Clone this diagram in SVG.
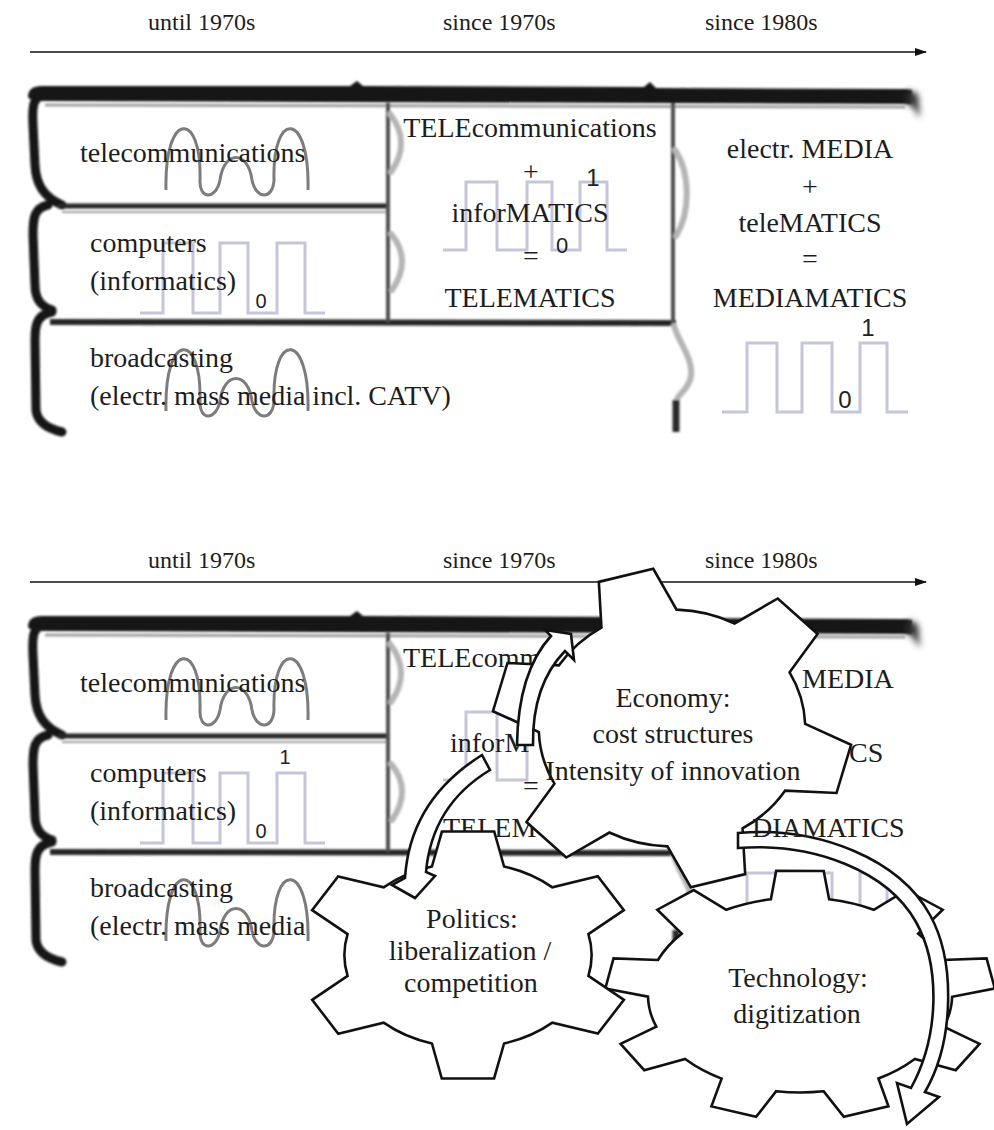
<svg xmlns="http://www.w3.org/2000/svg" width="994" height="1130" viewBox="0 0 994 1130">
<defs>
<style>
.t{font-family:"Liberation Serif","Times New Roman",serif;font-size:28px;fill:#1d1d1d}
.h{font-family:"Liberation Serif","Times New Roman",serif;font-size:24px;fill:#1d1d1d}
.c{text-anchor:middle}
.d{font-family:"Liberation Sans",Arial,sans-serif;fill:#222}
.sq{fill:none;stroke:#c6c6da;stroke-width:3}
.sn{fill:none;stroke:#7c7c7c;stroke-width:3}
.gear{fill:#fff;stroke:#111;stroke-width:2.6;stroke-linejoin:miter}
.arr{fill:#fff;stroke:#111;stroke-width:2.6;stroke-linejoin:miter}
.tl{stroke:#111;stroke-width:1.6;fill:none}
.bk{fill:none;stroke:#141414;stroke-width:9;stroke-linecap:round}
.lg{fill:none;stroke:#b5b5b5;stroke-width:6;stroke-linecap:round}
</style>
<filter id="soft" x="-5%" y="-5%" width="110%" height="110%"><feGaussianBlur stdDeviation="1.3"/></filter>
<filter id="fade" x="-50%" y="-50%" width="200%" height="200%"><feGaussianBlur stdDeviation="3"/></filter>
<marker id="ah" viewBox="0 0 12 8" refX="11" refY="4" markerWidth="12" markerHeight="8" markerUnits="userSpaceOnUse" orient="auto"><path d="M0,0 L12,4 L0,8 Z" fill="#111"/></marker>
<g id="frame">
<g filter="url(#soft)">
<path d="M28,97 Q28,86 42,86 L350,86 L357,81 L363,86 L644,87 L650,82 L656,88 L906,89 L912,90 L912,104 L900,104 L40,101 Q30,101 28,97 Z" fill="#141414"/>
<path d="M45,105 L905,107" stroke="#a0a0a0" stroke-width="3" fill="none"/>
<path class="bk" d="M50,92 C32,95 32,106 33,125 L35,165 C36,185 44,197 62,205"/>
<path class="bk" d="M48,205 C34,208 33,218 33,235 L35,285 C35,298 40,306 52,310"/>
<path class="bk" d="M52,312 C37,315 35,324 35,340 L36,410 C37,420 45,428 62,432"/>
<path d="M58,206 L387,206" stroke="#262626" stroke-width="5" fill="none"/>
<path d="M62,212 L386,212" stroke="#a0a0a0" stroke-width="2" fill="none"/>
<path d="M50,322 L676,323" stroke="#262626" stroke-width="6" fill="none"/>
<path d="M388,103 L388,322" stroke="#505050" stroke-width="4" fill="none"/>
<path class="lg" d="M390,114 C404,132 405,152 391,172 M391,234 C405,250 406,270 392,290"/>
<path d="M673,103 L673,325" stroke="#505050" stroke-width="4" fill="none"/>
<path class="lg" d="M675,150 C690,172 691,212 676,236 M674,326 C680,345 693,358 691,376 C689,390 677,394 676,402"/>
<path d="M676,400 L676,432" stroke="#2a2a2a" stroke-width="7" fill="none"/>
</g>
<path d="M908,90 L918,94 L920,118 L912,106 L906,104 Z" fill="#333" filter="url(#fade)"/>
</g>
<g id="waves">
<path class="sn" d="M166,190 C164,110 202,110 200,180 C199,200 216,200 220,180 C224,150 248,150 252,180 C256,200 273,200 274,180 C272,110 310,110 308,190"/>
<path class="sn" transform="translate(0,221)" d="M166,190 C164,110 202,110 200,180 C199,200 216,200 220,180 C224,150 248,150 252,180 C256,200 273,200 274,180 C272,110 310,110 308,190"/>
<path class="sq" d="M140,313 H163 V243 H193 V313 H220 V243 H248 V313 H277 V243 H305 V313 H325"/>
<path class="sq" d="M443,250 H466 V182 H497 V250 H527 V182 H552 V250 H580 V182 H607 V250 H627"/>
<path class="sq" d="M722,412 H747 V343 H777 V412 H802 V343 H832 V412 H860 V343 H887 V412 H908"/>
</g>
<path id="g6" vector-effect="non-scaling-stroke" d="M70.8,-21.6 L98.8,-15.6 L98.8,15.6 L70.8,21.6 A74 74 0 0 1 54.1,50.5 L62.9,77.7 L35.8,93.4 L16.7,72.1 A74 74 0 0 1 -16.7,72.1 L-35.8,93.4 L-62.9,77.7 L-54.1,50.5 A74 74 0 0 1 -70.8,21.6 L-98.8,15.6 L-98.8,-15.6 L-70.8,-21.6 A74 74 0 0 1 -54.1,-50.5 L-62.9,-77.7 L-35.8,-93.4 L-16.7,-72.1 A74 74 0 0 1 16.7,-72.1 L35.8,-93.4 L62.9,-77.7 L54.1,-50.5 A74 74 0 0 1 70.8,-21.6 Z"/>
<path id="g9" vector-effect="non-scaling-stroke" d="M76.6,-14.9 L99.3,-12.2 L99.3,12.2 L76.6,14.9 A78 78 0 0 1 68.2,37.8 L83.9,54.5 L68.2,73.1 L49.1,60.6 A78 78 0 0 1 28,72.8 L29.2,95.6 L5.2,99.9 L-1.4,78 A78 78 0 0 1 -25.4,73.7 L-39.1,92.1 L-60.2,79.9 L-51.2,58.9 A78 78 0 0 1 -66.9,40.2 L-89.1,45.4 L-97.4,22.5 L-77,12.2 A78 78 0 0 1 -77,-12.2 L-97.4,-22.5 L-89.1,-45.4 L-66.9,-40.2 A78 78 0 0 1 -51.2,-58.9 L-60.2,-79.9 L-39.1,-92.1 L-25.4,-73.7 A78 78 0 0 1 -1.4,-78 L5.2,-99.9 L29.2,-95.6 L28,-72.8 A78 78 0 0 1 49.1,-60.6 L68.2,-73.1 L83.9,-54.5 L68.2,-37.8 A78 78 0 0 1 76.6,-14.9 Z"/>
</defs>

<g id="connectors-timeline">
<line class="tl" x1="30" y1="52" x2="926" y2="52" marker-end="url(#ah)"/>
<line class="tl" x1="30" y1="582" x2="926" y2="582" marker-end="url(#ah)"/>
</g>

<!-- upper diagram -->
<g id="table-top">
<use href="#frame"/>
<use href="#waves"/>
</g>
<g id="labels-top">
<text class="h" x="148" y="30">until 1970s</text>
<text class="h" x="443" y="30">since 1970s</text>
<text class="h" x="705" y="30">since 1980s</text>
</g>
<g id="node-telecom-top"><text class="t" x="80" y="162">telecommunications</text></g>
<g id="node-computers-top"><text class="t" x="90" y="252">computers</text><text class="t" x="90" y="290">(informatics)</text><text class="d c" x="261" y="308" font-size="20">0</text></g>
<g id="node-broadcast-top"><text class="t" x="90" y="367">broadcasting</text><text class="t" x="90" y="405">(electr. mass media incl. CATV)</text></g>
<g id="node-telematics-top">
<text class="t c" x="530" y="137">TELEcommunications</text>
<text class="t c" x="531" y="181">+</text>
<text class="d c" x="593" y="186" font-size="24">1</text>
<text class="t c" x="530" y="222">inforMATICS</text>
<text class="d c" x="562" y="253" font-size="22">0</text>
<text class="t c" x="531" y="265">=</text>
<text class="t c" x="530" y="307">TELEMATICS</text>
</g>
<g id="node-mediamatics-top">
<text class="t c" x="810" y="158">electr. MEDIA</text>
<text class="t c" x="810" y="196">+</text>
<text class="t c" x="810" y="232">teleMATICS</text>
<text class="t c" x="810" y="268">=</text>
<text class="t c" x="810" y="307">MEDIAMATICS</text>
<text class="d c" x="868" y="336" font-size="24">1</text>
<text class="d c" x="845" y="408" font-size="24">0</text>
</g>

<!-- lower diagram -->
<g id="table-bottom">
<use href="#frame" transform="translate(0,530)"/>
<use href="#waves" transform="translate(0,530)"/>
</g>
<g id="labels-bottom">
<text class="h" x="148" y="568">until 1970s</text>
<text class="h" x="443" y="568">since 1970s</text>
<text class="h" x="705" y="568">since 1980s</text>
</g>
<g id="node-telecom-bottom"><text class="t" x="80" y="692">telecommunications</text></g>
<g id="node-computers-bottom"><text class="t" x="90" y="782">computers</text><text class="t" x="90" y="820">(informatics)</text><text class="d c" x="261" y="838" font-size="20">0</text><text class="d c" x="285" y="764" font-size="20">1</text></g>
<g id="node-broadcast-bottom"><text class="t" x="90" y="897">broadcasting</text><text class="t" x="90" y="935">(electr. mass media</text></g>
<g id="node-telematics-bottom">
<text class="t" x="403" y="667">TELEcomm</text>
<text class="t c" x="531" y="711">+</text>
<text class="t" x="450" y="752">inforM</text>
<text class="t c" x="531" y="795">=</text>
<text class="t" x="443" y="837">TELEM</text>
</g>
<g id="node-mediamatics-bottom">
<text class="t" x="802" y="688">MEDIA</text>
<text class="t" x="849" y="762">CS</text>
</g>

<g id="gear-economy">
<use href="#g6" class="gear" transform="translate(672,728) scale(1.8,1.6) rotate(15)"/>
<text class="t c" x="673" y="707">Economy:</text>
<text class="t c" x="673" y="743">cost structures</text>
<text class="t c" x="673" y="780">Intensity of innovation</text>
</g>
<g id="gear-technology">
<use href="#g9" class="gear" transform="translate(800,995) scale(1.95,1.25) rotate(-10)"/>
<text class="t c" x="798" y="987">Technology:</text>
<text class="t c" x="797" y="1023">digitization</text>
</g>
<g id="gear-politics">
<use href="#g6" class="gear" transform="translate(468,955) scale(1.67,1.25) rotate(30)"/>
<text class="t c" x="472" y="928">Politics:</text>
<text class="t c" x="470" y="960">liberalization /</text>
<text class="t c" x="471" y="992">competition</text>
</g>

<g id="connectors-cycle">
<path class="arr" d="M517,745 Q518,672 551,636 L545,630 L571,634 L574,660 L565,651 Q532,685 533,745 Z"/>
<path class="arr" d="M482,755 Q410,800 405,878 L392,885 L415,898 L435,876 L426,872 Q432,805 490,770 Z"/>
<path class="arr" d="M738,833 C820,826 900,860 930,915 C955,960 955,1040 925,1092 L939,1097 L907,1124 L897,1083 L911,1088 C940,1035 940,965 916,922 C888,872 815,842 738,848 Z"/>
</g>
<g id="node-mediamatics-bottom-top"><text class="t" x="752" y="837">DIAMATICS</text></g>
</svg>
